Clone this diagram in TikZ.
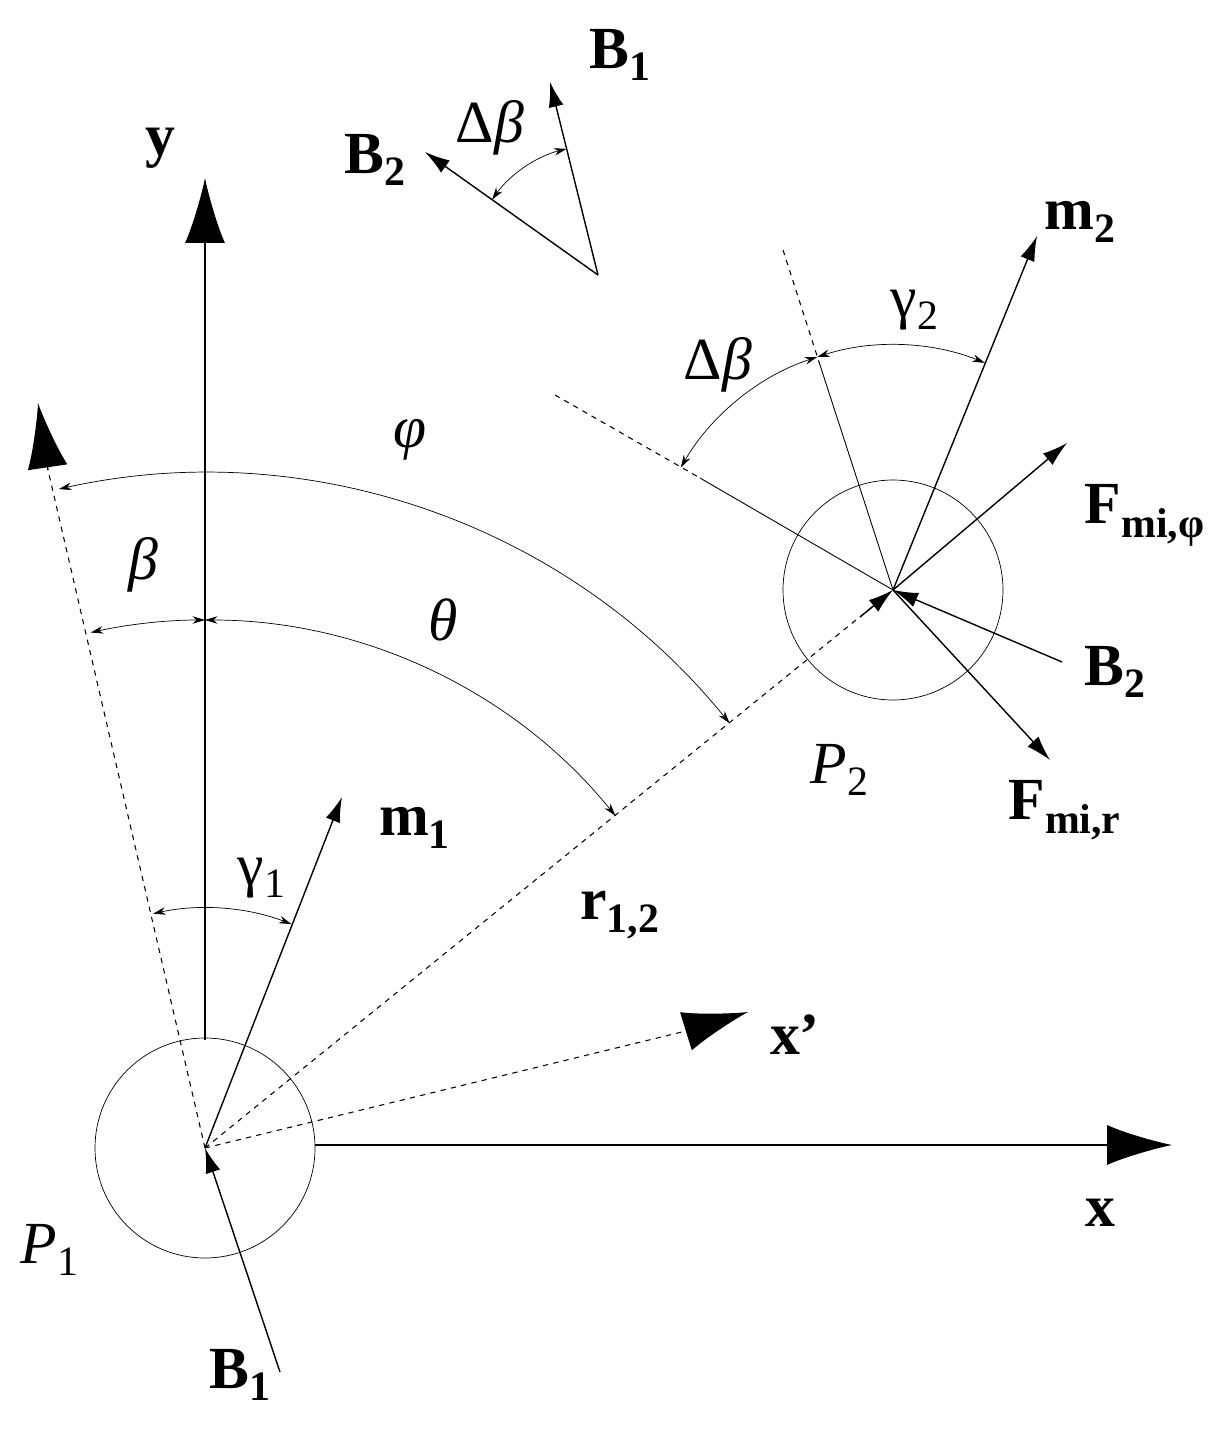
\documentclass[tikz,border=0pt]{standalone}
\usepackage{fontspec}
\setmainfont{Liberation Serif}
\usetikzlibrary{arrows.meta,calc}
\begin{document}
\begin{tikzpicture}[x=0.02cm,y=-0.02cm,
  big/.style={-{Latex[length=1.3cm,width=0.8cm]},line width=0.8pt},
  vec/.style={-{Latex[length=0.5cm,width=0.3cm]},line width=0.8pt},
  dim/.style={{Stealth[length=0.25cm,width=0.15cm]}-{Stealth[length=0.25cm,width=0.15cm]},line width=0.4pt},
  lab/.style={font=\fontsize{34}{40}\selectfont,inner sep=0pt}]
\useasboundingbox (0,0) rectangle (1222,1430);
\coordinate (P1) at (205,1148);
\coordinate (P2) at (893,590);
\draw[line width=0.4pt] (P1) circle[radius=110];
\draw[line width=0.4pt] (P2) circle[radius=110];
% axes
\coordinate (xe) at (1172,1145);
\coordinate (ye) at (205,178);
\draw[big] (315,1145) -- (xe);
\draw[big] (205,1040) -- (ye);
\coordinate (de) at (38,403);
\draw[dashed,line width=0.6pt] (P1) -- (48,470);
\draw[big] (48,470) -- (de);
\coordinate (xp) at (748,1012);
\draw[dashed,line width=0.6pt] (P1) -- (690,1030);
\draw[big] (690,1030) -- (xp);
\draw[dashed,line width=0.6pt] (P1) -- (P2);
\draw[vec] (860,617) -- (P2);
% vectors at P1
\coordinate (m1) at (342,797);
\draw[vec] (P1) -- (m1);
\coordinate (B1s) at (280,1372);
\draw[vec] (B1s) -- (P1);
% vectors at P2
\coordinate (m2) at (1037,236);
\draw[vec] (P2) -- (m2);
\coordinate (Fp) at (1067,443);
\draw[vec] (P2) -- (Fp);
\coordinate (Fr) at (1050,760);
\draw[vec] (P2) -- (Fr);
\coordinate (B2s) at (1062,662);
\draw[vec] (B2s) -- (P2);
\coordinate (da) at (555,395);
\coordinate (db) at (783,250);
\draw[dashed,line width=0.6pt] (da) -- (700,478);
\draw[line width=0.5pt] (700,478) -- (P2);
\draw[dashed,line width=0.6pt] (db) -- (820,365);
\draw[line width=0.5pt] (820,365) -- (P2);
% arcs at P1 (angles negated because y points down)
\draw[dim] ($(P1)+(-102.5:675)$) arc[start angle=-102.5,end angle=-39,radius=675];
\draw[dim] ($(P1)+(-90:528)$) arc[start angle=-90,end angle=-39,radius=528];
\draw[dim] ($(P1)+(-102.5:528)$) arc[start angle=-102.5,end angle=-90,radius=528];
\draw[dim] ($(P1)+(-102.5:240)$) arc[start angle=-102.5,end angle=-68.9,radius=240];
% arcs at P2
\draw[dim] ($(P2)+(-108:245)$) arc[start angle=-108,end angle=-68,radius=245];
\draw[dim] ($(P2)+(-150:245)$) arc[start angle=-150,end angle=-108,radius=245];
% inset
\coordinate (V) at (598,275);
\coordinate (iB1) at (550,82);
\coordinate (iB2) at (425,152);
\draw[vec] (V) -- (iB1);
\draw[vec] (V) -- (iB2);
\draw[dim] ($(V)+(-104:130)$) arc[start angle=-104,end angle=-144.6,radius=130];
% labels
\node[lab] (ly) at (160,148) {\textbf{y}};
\node[lab] (lb1t) at (620,55) {\textbf{B\textsubscript{1}}};
\node[lab] (lb2t) at (375,160) {\textbf{B\textsubscript{2}}};
\node[lab] (ldbt) at (490,128) {Δ\textit{β}};
\node[lab] (lm2) at (1080,222) {\textbf{m\textsubscript{2}}};
\node[lab] (lg2) at (915,310) {γ\textsubscript{2}};
\node[lab] (ldb) at (718,365) {Δ\textit{β}};
\node[lab] (lphi) at (410,440) {\textit{φ}};
\node[lab] (lbeta) at (143,565) {\textit{β}};
\node[lab] (lth) at (443,620) {\textit{θ}};
\node[lab] (lfp) at (1145,515) {\textbf{F\textsubscript{mi,φ}}};
\node[lab] (lb2) at (1115,672) {\textbf{B\textsubscript{2}}};
\node[lab] (lp2) at (840,770) {\textit{P}\textsubscript{2}};
\node[lab] (lfr) at (1065,810) {\textbf{F\textsubscript{mi,r}}};
\node[lab] (lm1) at (415,828) {\textbf{m\textsubscript{1}}};
\node[lab] (lg1) at (262,878) {γ\textsubscript{1}};
\node[lab] (lr) at (620,915) {\textbf{r\textsubscript{1,2}}};
\node[lab] (lxp) at (795,1035) {\textbf{x'}};
\node[lab] (lx) at (1100,1213) {\textbf{x}};
\node[lab] (lp1) at (50,1250) {\textit{P}\textsubscript{1}};
\node[lab] (lb1) at (240,1375) {\textbf{B\textsubscript{1}}};
\end{tikzpicture}
\end{document}
